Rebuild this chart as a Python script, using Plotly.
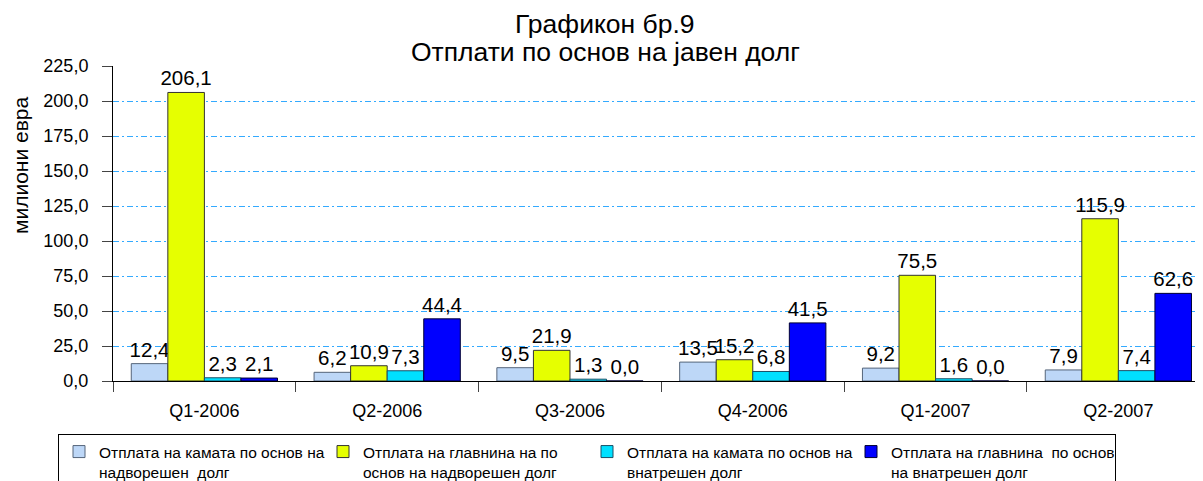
import plotly.graph_objects as go

categories = ["Q1-2006", "Q2-2006", "Q3-2006", "Q4-2006", "Q1-2007", "Q2-2007"]
ext_interest = [12.4, 6.2, 9.5, 13.5, 9.2, 7.9]
ext_principal = [206.1, 10.9, 21.9, 15.2, 75.5, 115.9]
dom_interest = [2.3, 7.3, 1.3, 6.8, 1.6, 7.4]
dom_principal = [2.1, 44.4, 0.0, 41.5, 0.0, 62.6]

series_names = [
    "Отплата на камата по основ на<br>надворешен  долг",
    "Отплата на главнина на по<br>основ на надворешен долг",
    "Отплата на камата по основ на<br>внатрешен долг",
    "Отплата на главнина  по основ<br>на внатрешен долг",
]
title_lines = ["Графикон бр.9", "Отплати по основ на јавен долг"]
y_title = "милиони евра"
y_ticks = [0, 25, 50, 75, 100, 125, 150, 175, 200, 225]

FONT = "Liberation Sans, Arial, sans-serif"
fills = ["#BDD7F7", "#E6FF00", "#00E0FF", "#0000FF"]
lines = ["#55657a", "#333333", "#1a4f66", "#000033"]

# page has an 8px body margin; plot area wanted at page x 113..1203, y 66..381
OFF = 8
fig = go.Figure()
for name, vals, fc, lc in zip(series_names,
                              [ext_interest, ext_principal, dom_interest, dom_principal],
                              fills, lines):
    fig.add_trace(go.Bar(
        x=categories, y=vals, name=name,
        marker=dict(color=fc, line=dict(color=lc, width=1)),
        texttemplate="%{y:.1f}", textposition="outside",
        textfont=dict(size=20.5, color="black", family=FONT),
        constraintext="none", cliponaxis=False,
    ))

fig.update_layout(
    width=1203, height=481,
    margin=dict(l=113 - OFF, r=OFF, t=66 - OFF, b=100 + OFF, autoexpand=False),
    paper_bgcolor="white", plot_bgcolor="white",
    separators=",.",
    font=dict(family=FONT, color="black", size=18),
    bargap=0.2, bargroupgap=0,
    showlegend=True,
    legend=dict(orientation="h", x=(58 - 113) / 1090, xanchor="left",
                y=(381 - 434) / 315, yanchor="top",
                bordercolor="black", borderwidth=1, bgcolor="white",
                font=dict(size=15.5, family=FONT, color="black"),
                valign="top", entrywidth=219, traceorder="normal",
                itemclick=False),
)
fig.update_xaxes(
    range=[-0.5, 5.463], showline=True, linecolor="black", linewidth=1,
    ticks="outside", tickson="boundaries", ticklen=10, tickcolor="#444",
    ticklabelstandoff=13, showgrid=False,
    tickfont=dict(size=18, family=FONT, color="black"),
)
fig.update_yaxes(
    range=[0, 225], tickvals=y_ticks, tickformat=".1f",
    showline=True, linecolor="black", linewidth=1,
    ticks="outside", ticklen=10, tickcolor="#444", ticklabelstandoff=10,
    showgrid=True, gridcolor="#33AAFF", gridwidth=1, griddash="6px,3px,2px,3px",
    zeroline=False,
    tickfont=dict(size=18, family=FONT, color="black"),
)
# title lines (centred on page)
for txt, ypx in zip(title_lines, [24, 52]):
    fig.add_annotation(text=txt, xref="paper", yref="paper",
                       x=(605 - 113) / 1090, y=(381 - ypx) / 315,
                       xanchor="center", yanchor="middle", showarrow=False,
                       font=dict(size=26.5, family=FONT, color="black"))
fig.add_annotation(text=y_title, xref="paper", yref="paper",
                   x=(20 - 113) / 1090, y=(381 - 165) / 315, textangle=-90,
                   xanchor="center", yanchor="middle", showarrow=False,
                   font=dict(size=21, family=FONT, color="black"))

fig.write_html("out.html")
